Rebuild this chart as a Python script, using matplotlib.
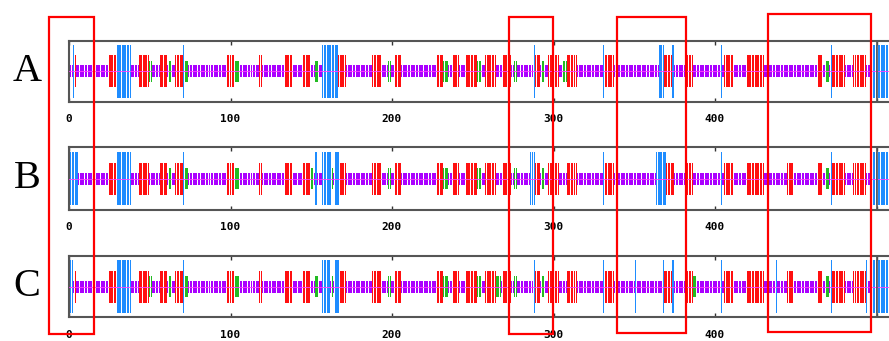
import numpy as np
import matplotlib
matplotlib.use("Agg")
import matplotlib.pyplot as plt
from matplotlib.patches import Rectangle

# per-residue tracks: segments (first, last) of each state, rest is coil
seq_len = 512

A_red = [(4, 4), (25, 29), (44, 49), (57, 60), (66, 70), (98, 102), (118, 119), (134, 138),
         (145, 149), (167, 171), (188, 193), (202, 205), (228, 231), (238, 241), (246, 252),
         (258, 264), (269, 273), (289, 291), (297, 303), (309, 314), (332, 337), (369, 373),
         (382, 386), (406, 411), (420, 430), (464, 466), (473, 480), (486, 493)]
A_blue = [(3, 3), (30, 38), (71, 71), (157, 166), (288, 288), (331, 331), (366, 368),
          (374, 374), (404, 404), (472, 472), (498, 512)]
A_green = [(50, 51), (62, 63), (72, 73), (103, 105), (153, 154), (198, 199), (232, 234),
           (253, 255), (276, 277), (293, 294), (306, 308), (469, 470), (497, 497)]

B_red = [(25, 29), (44, 49), (57, 60), (66, 70), (98, 102), (118, 119), (134, 138),
         (145, 149), (167, 171), (188, 193), (202, 205), (228, 231), (238, 241), (246, 252),
         (258, 264), (269, 273), (289, 291), (297, 303), (309, 314), (332, 337), (370, 374),
         (382, 386), (406, 411), (420, 430), (445, 448), (464, 466), (473, 480), (486, 493)]
B_blue = [(1, 5), (30, 38), (71, 71), (153, 153), (157, 162), (165, 167), (286, 288),
          (331, 331), (364, 369), (404, 404), (472, 472), (498, 512)]
B_green = [(62, 63), (72, 73), (103, 105), (150, 151), (163, 163), (198, 199), (232, 234),
           (253, 255), (276, 277), (293, 294), (469, 470)]

C_red = [(4, 4), (25, 29), (44, 49), (57, 60), (66, 70), (98, 102), (118, 119), (134, 138),
         (145, 149), (167, 171), (188, 193), (202, 205), (228, 231), (238, 241), (246, 252),
         (258, 264), (269, 273), (289, 291), (297, 303), (309, 314), (332, 337), (369, 373),
         (382, 386), (406, 411), (420, 430), (445, 448), (464, 466), (473, 480), (486, 493)]
C_blue = [(1, 2), (30, 38), (71, 71), (157, 161), (165, 167), (288, 288), (331, 331),
          (351, 351), (368, 368), (374, 374), (404, 404), (438, 438), (472, 472),
          (494, 494), (498, 512)]
C_green = [(50, 51), (62, 63), (72, 73), (103, 105), (153, 154), (163, 163), (198, 199),
           (232, 234), (253, 255), (265, 267), (276, 277), (293, 294), (387, 388), (469, 470)]

tracks = ["A", "B", "C"]
segments = {"A": (A_red, A_blue, A_green), "B": (B_red, B_blue, B_green),
            "C": (C_red, C_blue, C_green)}
tick_vals = [0, 100, 200, 300, 400, 500]
tick_text = ["0", "100", "200", "300", "400", ""]
seq_end = 500

# highlighted regions (figure pixels: x0, y0, x1, y1 from top-left)
boxes = [(49, 17, 94, 334), (509, 17, 553, 334), (617, 17, 686, 333), (768, 14, 871, 332)]

# look
W, H = 889, 341
colors = {0: "#aa00ff", 1: "#ff1010", 2: "#1e8cff", 3: "#22bb22"}
half = {0: 6, 1: 16, 2: 26.5, 3: 10.5}
frames = {"A": (41, 102), "B": (147, 210), "C": (256, 317)}
x_left, px_per_res = 69, 1.615

fig = plt.figure(figsize=(W / 100, H / 100), dpi=100)

for name in tracks:
    red, blue, green = segments[name]
    state = np.zeros(seq_len + 1, dtype=int)
    for code, segs in ((1, red), (2, blue), (3, green)):
        for a, b in segs:
            state[a:b + 1] = code
    pos = np.arange(1, seq_len + 1)
    st = state[1:]

    top, bot = frames[name]
    hpx = bot - top
    ax = fig.add_axes([x_left / W, 1 - bot / H, (W - x_left) / W, hpx / H])
    for code in (0, 1, 3, 2):
        m = st == code
        ax.bar(pos[m], 2 * half[code], bottom=-half[code], width=0.75,
               color=colors[code], linewidth=0, zorder=2)
    ax.axhline(0, color="#ff40ff", lw=0.6, zorder=3)
    ax.axvline(seq_end, color="#555555", lw=1.2, zorder=4)

    ax.set_xlim(0, (W - x_left) / px_per_res)
    ax.set_ylim(-hpx / 2, hpx / 2)
    ax.set_yticks([])
    ax.set_xticks(tick_vals)
    ax.set_xticklabels(tick_text, family="DejaVu Sans Mono",
                       fontweight="bold", fontsize=8)
    ax.tick_params(axis="x", direction="in", top=True, bottom=True, length=3,
                   width=1, color="#333333", pad=9)
    for s in ("top", "bottom", "left"):
        ax.spines[s].set_color("#555555")
        ax.spines[s].set_linewidth(1.5)
    ax.spines["right"].set_visible(False)

    fig.text(27 / W, 1 - (top + bot) / 2 / H, name, family="Liberation Serif",
             fontsize=29, ha="center", va="center")

for x0, y0, x1, y1 in boxes:
    fig.add_artist(Rectangle((x0 / W, 1 - y1 / H), (x1 - x0) / W, (y1 - y0) / H,
                             transform=fig.transFigure, fill=False,
                             edgecolor="#ff0000", linewidth=1.6, zorder=10))

fig.savefig("out.png", dpi=100)
